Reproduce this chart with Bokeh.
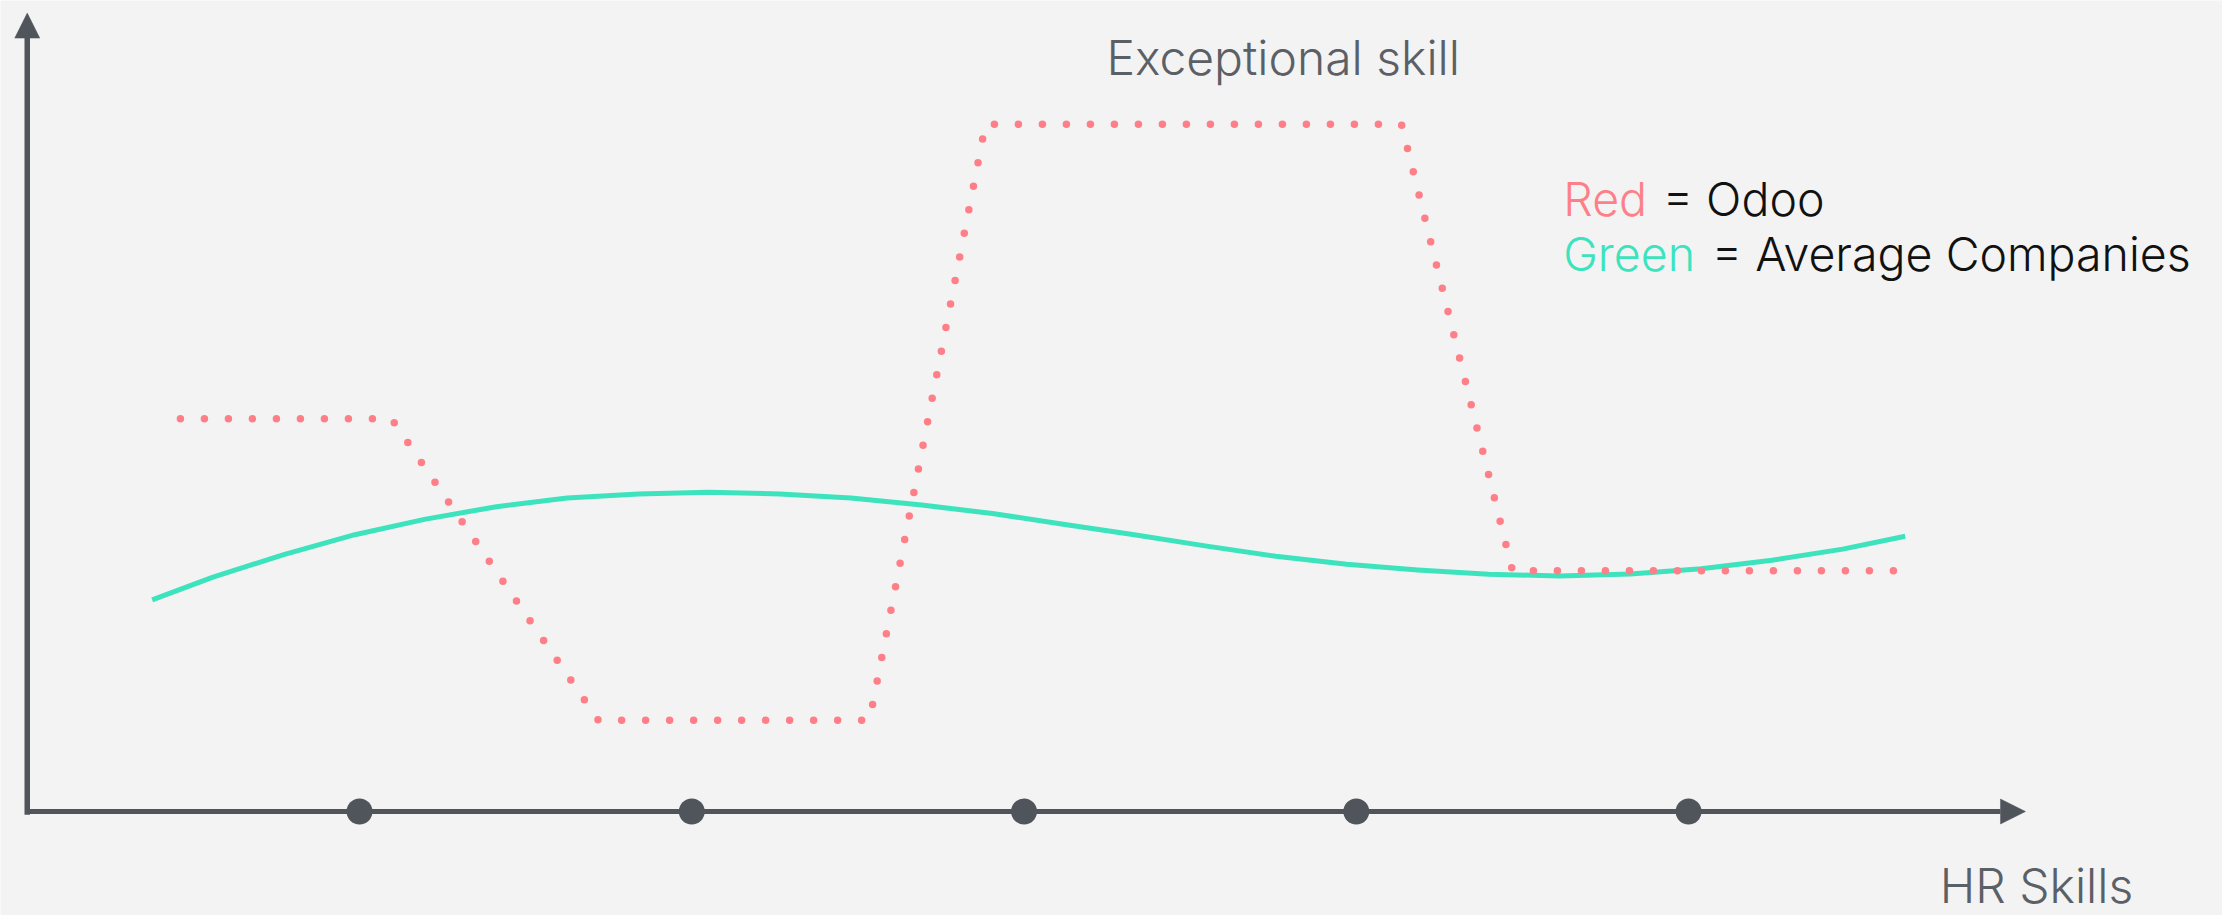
import re
from bokeh.plotting import figure
from bokeh.models import Range1d, Arrow, NormalHead
from bokeh.core.properties import value
from bokeh.embed import file_html
from bokeh.resources import INLINE

# ---- data (arbitrary skill units) ----
skill_ticks = [1, 2, 3, 4, 5]

odoo_x = [0.461, 1.096, 1.719, 2.535, 2.884, 4.136, 4.470, 5.630]
odoo_y = [4.91, 4.91, 1.14, 1.14, 8.59, 8.59, 3.01, 3.01]

avg_x = [0.376, 0.559, 0.772, 0.986, 1.199, 1.412, 1.625, 1.839, 2.052, 2.265,
         2.479, 2.692, 2.905, 3.118, 3.332, 3.545, 3.758, 3.971, 4.185, 4.398,
         4.611, 4.825, 5.038, 5.251, 5.464, 5.652]
avg_y = [2.645, 2.93, 3.21, 3.46, 3.655, 3.81, 3.92, 3.97, 3.99, 3.97,
         3.92, 3.83, 3.725, 3.59, 3.46, 3.32, 3.19, 3.09, 3.02, 2.965,
         2.945, 2.97, 3.035, 3.14, 3.28, 3.44]

title_text = "Exceptional skill"
x_label = "HR Skills"
legend_red = ["Red", "= Odoo"]
legend_green = ["Green", "= Average Companies"]

# ---- styling ----
W, H = 2222, 915
AXIS = "#50555B"
RED = "#FF7F88"
GREEN = "#3DE3BD"
GRAY = "#5B6066"
BLACK = "#111111"
BG = "#f3f3f3"
FONT = value("Inter Light, Inter")

p = figure(width=W, height=H, output_backend="svg", toolbar_location=None,
           x_range=Range1d(-0.0805, 6.607), y_range=Range1d(-1.3, 10.1375),
           min_border=0, x_axis_type=None, y_axis_type=None)
p.grid.visible = False
p.outline_line_color = None
p.background_fill_color = BG
p.border_fill_color = BG

# soft radial light in the background
for i in range(14):
    r = 2600 - i * 160
    p.ellipse(x=2.9, y=4.6, width=r, height=r * 0.75, width_units="screen",
              height_units="screen", fill_color="white", fill_alpha=0.06,
              line_color=None)

# axes with arrow heads
p.add_layout(Arrow(x_start=0, y_start=-0.04, x_end=0, y_end=9.98,
                   line_color=AXIS, line_width=5.5,
                   end=NormalHead(size=25, fill_color=AXIS, line_color=AXIS, line_width=0.5)))
p.add_layout(Arrow(x_start=0, y_start=0, x_end=6.014, y_end=0,
                   line_color=AXIS, line_width=5,
                   end=NormalHead(size=25, fill_color=AXIS, line_color=AXIS, line_width=0.5)))

p.scatter(x=skill_ticks, y=[0] * len(skill_ticks), size=26, marker="circle",
          fill_color=AXIS, line_color=None)

# series
p.line(avg_x, avg_y, line_color=GREEN, line_width=5, line_join="round")
p.line(odoo_x, odoo_y, line_color=RED, line_width=7.5, line_dash="0 24",
       line_cap="round", line_join="round")

# texts
def txt(x, y, s, color, fs):
    p.text(x=[x], y=[y], text=[s], text_color=color, text_font=FONT,
           text_font_size=fs, text_baseline="alphabetic")

txt(3.248, 9.42, title_text, GRAY, "48px")
txt(5.756, -0.925, x_label, GRAY, "48px")
txt(4.623, 7.66, legend_red[0], RED, "46.5px")
txt(4.922, 7.66, legend_red[1], BLACK, "46.5px")
txt(4.623, 6.97, legend_green[0], GREEN, "46.5px")
txt(5.070, 6.97, legend_green[1], BLACK, "46.5px")

html = file_html(p, INLINE)
html = re.sub(r"<body>", '<body style="margin:0;background:%s;overflow:hidden">' % BG, html, count=1)
open("out.html", "w").write(html)
